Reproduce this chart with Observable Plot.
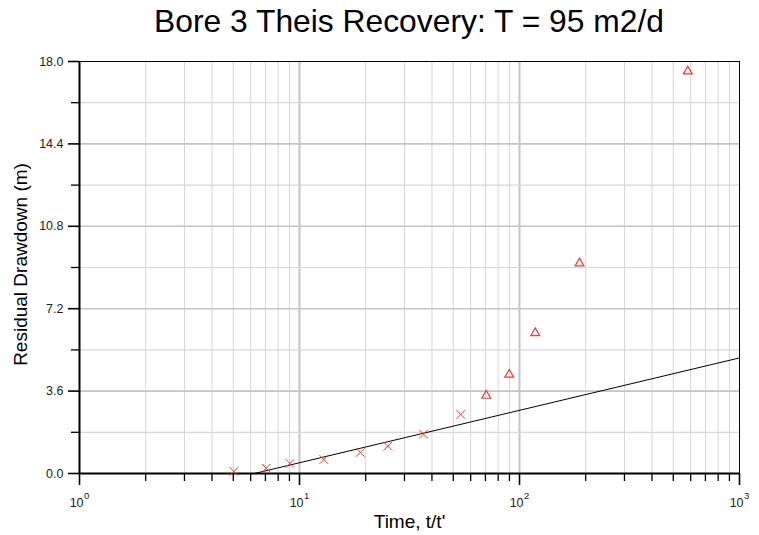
<!DOCTYPE html>
<html>
<head>
<meta charset="utf-8">
<script src="https://cdn.jsdelivr.net/npm/d3@7"></script>
<script src="https://cdn.jsdelivr.net/npm/@observablehq/plot@0.6"></script>
<style>
  html, body { margin: 0; padding: 0; background: #fff; }
  #wrap { position: relative; width: 759px; height: 535px; font-family: "Liberation Sans", Arial, sans-serif; }
  #title { position: absolute; left: 0; width: 818px; top: 6px; text-align: center; font-size: 31.8px; line-height: 1; color: #000; }
  #chart { position: absolute; left: 0; top: 0; }
</style>
</head>
<body>
<div id="wrap">
  <div id="chart"></div>
  <div id="title">Bore 3 Theis Recovery: T = 95 m2/d</div>
</div>
<script>
// Data
const crossT = [5.03, 7.06, 9.04, 12.9, 18.9, 25.2, 36.6, 54.1];
const crossS = [0.09, 0.23, 0.44, 0.61, 0.92, 1.19, 1.72, 2.58];
const triT = [70.6, 89.8, 117.9, 187.4, 582];
const triS = [3.4, 4.32, 6.14, 9.18, 17.57];
const fitT = [6.24, 1000];
const fitS = [0, 5.05];

// Tick values
const xMajor = [1, 10, 100, 1000];
const xMinor = [2, 3, 4, 5, 6, 7, 8, 9, 20, 30, 40, 50, 60, 70, 80, 90, 200, 300, 400, 500, 600, 700, 800, 900];
const yMajor = [0, 3.6, 7.2, 10.8, 14.4, 18.0];
const yMinor = [1.8, 5.4, 9.0, 12.6, 16.2];

const xLabel = "Time, t/t'";
const yLabel = "Residual Drawdown (m)";

const crosses = crossT.map((t, i) => ({t, s: crossS[i]}));
const tris = triT.map((t, i) => ({t, s: triS[i]}));
const fit = fitT.map((t, i) => ({t, s: fitS[i]}));

const plot = Plot.plot({
  width: 759,
  height: 535,
  marginLeft: 79,
  marginRight: 20,
  marginTop: 61,
  marginBottom: 62,
  style: {fontFamily: "'Liberation Sans', Arial, sans-serif", background: "#fff"},
  x: {type: "log", domain: [1, 1000], label: null},
  y: {domain: [0, 18], label: null},
  marks: [
    Plot.ruleX(xMinor, {stroke: "#d6d6d6", strokeWidth: 1}),
    Plot.ruleX(xMajor.slice(1, 3), {stroke: "#c4c4c4", strokeWidth: 2}),
    Plot.ruleY(yMinor, {stroke: "#d8d8d8", strokeWidth: 1.2}),
    Plot.ruleY(yMajor.slice(1, 5), {stroke: "#c4c4c4", strokeWidth: 1.6}),
    Plot.frame({stroke: "#000", strokeWidth: 1}),
    Plot.ruleX([1], {stroke: "#000", strokeWidth: 2}),
    Plot.ruleY([0], {stroke: "#000", strokeWidth: 2}),
    Plot.axisX({ticks: xMinor, tickSize: 8, tickFormat: () => "", label: null, stroke: "#000", strokeWidth: 1.3}),
    Plot.axisX({ticks: xMajor, tickSize: 12, tickPadding: 13, fill: "#222", stroke: "#000", strokeWidth: 1.6,
      tickFormat: d => "10^" + Math.round(Math.log10(d)), label: null}),
    Plot.axisY({ticks: yMinor, tickSize: 8, tickFormat: () => "", label: null, stroke: "#000", strokeWidth: 1.3}),
    Plot.axisY({ticks: yMajor, tickSize: 11, tickPadding: 5, fill: "#222", stroke: "#000", strokeWidth: 1.6,
      tickFormat: d3.format(".1f"), label: null}),
    Plot.line(fit, {x: "t", y: "s", stroke: "#000", strokeWidth: 1}),
    Plot.dot(crosses, {x: "t", y: "s", symbol: "times", r: 4, stroke: "#f33", strokeWidth: 1}),
    Plot.dot(tris, {x: "t", y: "s", symbol: "triangle", r: 3.3, stroke: "#f33", strokeWidth: 1.2, fill: "none"}),
    Plot.text([xLabel], {frameAnchor: "bottom", textAnchor: "middle", lineAnchor: "middle", text: d => d, dy: 48, fontSize: 19, fill: "#000"}),
    Plot.text([yLabel], {frameAnchor: "left", textAnchor: "middle", lineAnchor: "middle", text: d => d, rotate: -90, dx: -59, dy: -3, fontSize: 19, fill: "#000"})
  ]
});

const svg = d3.select(plot);
// tick label sizes and superscript exponents
svg.selectAll("text").each(function() {
  const el = this;
  const s = el.textContent;
  if (/^10\^\d$/.test(s)) {
    const exp = s.split("^")[1];
    el.textContent = "";
    el.setAttribute("font-size", "12.5");
    el.style.fontSize = "12.5px";
    const base = document.createElementNS("http://www.w3.org/2000/svg", "tspan");
    base.textContent = "10";
    const sup = document.createElementNS("http://www.w3.org/2000/svg", "tspan");
    sup.textContent = exp;
    sup.setAttribute("font-size", "9.5");
    sup.setAttribute("dy", "-8.4");
    sup.setAttribute("dx", "0.5");
    el.appendChild(base);
    el.appendChild(sup);
  } else if (/^\d+\.\d$/.test(s)) {
    el.setAttribute("font-size", "12.5");
    el.style.fontSize = "12.5px";
  }
});

document.getElementById("chart").appendChild(plot);
</script>
</body>
</html>
